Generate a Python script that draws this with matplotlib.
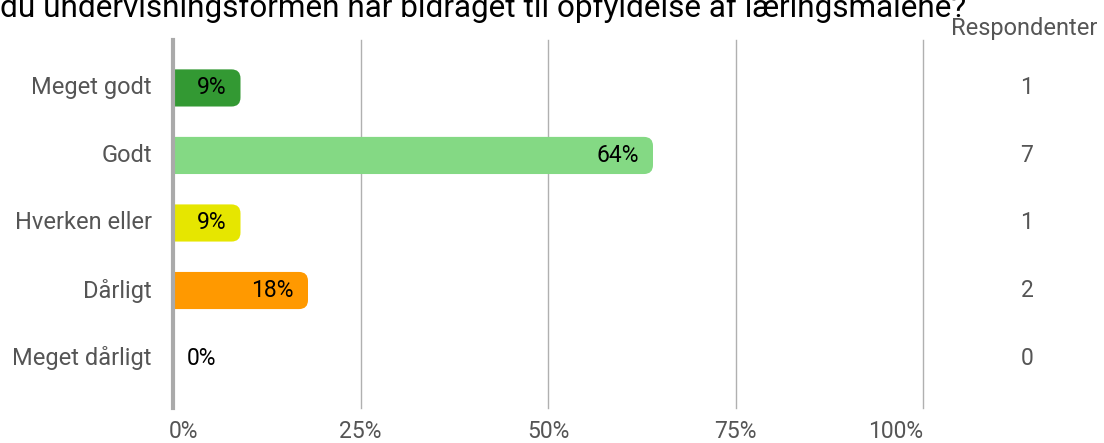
import numpy as np
import matplotlib.pyplot as plt
from matplotlib.patches import FancyBboxPatch, Rectangle

plt.rcParams['font.family'] = ['Roboto', 'DejaVu Sans']

kategorier = ["Meget godt", "Godt", "Hverken eller", "Dårligt", "Meget dårligt"]
respondenter = [1, 7, 1, 2, 0]
procent = [9, 64, 9, 18, 0]
farver = ["#339933", "#84d984", "#e6e600", "#ff9900", "#cc3333"]
ticks = [0, 25, 50, 75, 100]
titel = "du undervisningsformen har bidraget til opfyldelse af læringsmålene?"

W, H = 1104, 443
fig = plt.figure(figsize=(W / 100, H / 100), dpi=100)

# akse-placering i pixels
x0, x1 = 173, 923
ytop, ybot = 40, 408
ax = fig.add_axes([x0 / W, 1 - ybot / H, (x1 - x0) / W, (ybot - ytop) / H])
ax.set_xlim(0, 100)
ax.set_ylim(4.74, -0.71)

px_x = (x1 - x0) / 100.0
px_y = (ybot - ytop) / (4.74 + 0.71)
radius_px = 9

bar_h = 0.55
klip = Rectangle((0, -1), 100, 7, transform=ax.transData)

for i, (p, c) in enumerate(zip(procent, farver)):
    if p > 0:
        r = radius_px / px_x
        aspect = px_x / px_y
        # venstre ende skjules bag nul-linjen, kun hoejre ende er rundet
        box = FancyBboxPatch((-2 * r, i - bar_h / 2), p + 2 * r, bar_h,
                             boxstyle=f"round,pad=0,rounding_size={r}",
                             mutation_aspect=aspect, fc=c, ec="none", zorder=3)
        ax.add_patch(box)
        box.set_clip_path(klip)
        ax.text(p - 14 / px_x, i, f"{p}%", ha="right", va="center",
                fontsize=16.5, color="black", zorder=4)
    else:
        ax.text(14 / px_x, i, f"{p}%", ha="left", va="center",
                fontsize=16.5, color="black", zorder=4)

for t in ticks[1:]:
    ax.axvline(t, color="#b0b0b0", lw=1, zorder=1, clip_on=False)
ax.axvline(0, color="#aaaaaa", lw=3, zorder=5, clip_on=False)

for s in ax.spines.values():
    s.set_visible(False)
ax.set_xticks([])
ax.set_yticks([])

for i, k in enumerate(kategorier):
    ax.text(-21 / px_x, i, k, ha="right", va="center", fontsize=17,
            color="#555555", clip_on=False)

for i, n in enumerate(respondenter):
    ax.text((1027 - x0) / px_x, i, str(n), ha="center", va="center",
            fontsize=16.5, color="#555555", clip_on=False)

fig.text(1097 / W, 1 - 28 / H, "Respondenter", ha="right", va="center",
         fontsize=17, color="#555555")

for t in ticks:
    xp = x0 + t * px_x
    if t == 0:
        fig.text((xp - 4) / W, 1 - 432 / H, f"{t}%", ha="left", va="center",
                 fontsize=16.5, color="#555555")
    elif t == 100:
        fig.text(xp / W, 1 - 432 / H, f"{t}%", ha="right", va="center",
                 fontsize=16.5, color="#555555")
    else:
        fig.text(xp / W, 1 - 432 / H, f"{t}%", ha="center", va="center",
                 fontsize=16.5, color="#555555")

fig.text(0, 1 - 17 / H, titel, ha="left", va="baseline", fontsize=22.7, color="black")

fig.savefig("out.png", dpi=100)
